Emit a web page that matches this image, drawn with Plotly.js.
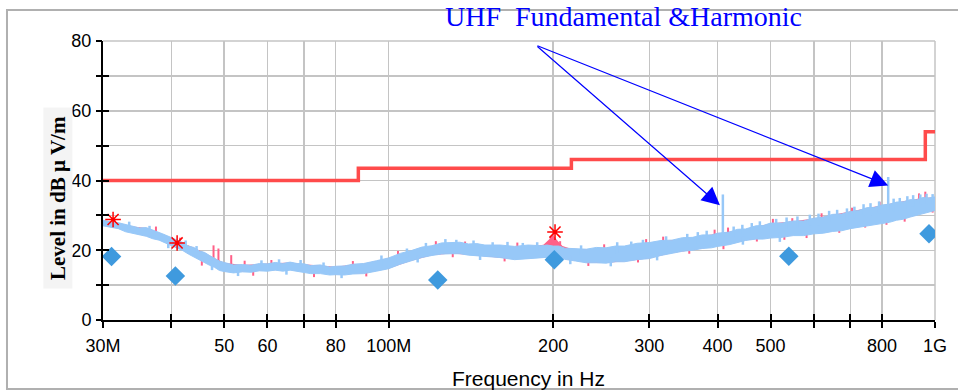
<!DOCTYPE html>
<html>
<head>
<meta charset="utf-8">
<script src="https://cdn.plot.ly/plotly-3.0.1.min.js"></script>
<style>html,body{margin:0;padding:0;background:#fff;}#chart{width:958px;height:392px;}</style>
</head>
<body>
<div id="chart"></div>
<script>
// ---- data (frequency in MHz, level in dBµV/m) ----
// average (blue) trace: band envelope
const freqMHz = [30,31,32,33,34,35,36,37,38,39,40,41,42,43,44,45,46,47,48,49,50,52,54,56,58,60,62,64,66,68,70,72,75,78,80,83,86,90,95,100,105,110,115,120,125,130,135,140,145,150,160,170,180,190,195,200,205,210,220,230,240,250,260,270,285,300,315,330,345,360,375,390,400,420,435,450,470,485,500,525,550,575,600,625,650,675,700,725,750,775,800,825,850,875,900,925,950,975,1000];
const blueUpper = [28.6,28.1,27.9,27.4,26.9,26.4,26.5,25.7,25.1,24.4,23.7,22.8,22.2,21.2,20.8,19.8,19.4,18.5,17.8,16.9,16.5,15.8,15.9,15.7,16.2,16.1,16.5,16.2,16.6,16.2,16.1,15.6,15.8,15.2,15.4,15.5,16.0,16.2,17.0,17.8,19.1,19.9,20.9,21.3,22.1,22.2,22.3,21.8,21.9,21.5,21.5,21.1,21.5,21.3,21.5,21.2,21.2,20.6,20.5,20.3,20.8,20.7,21.2,21.2,22.0,22.2,22.8,22.9,23.6,23.7,24.4,24.4,24.9,25.2,26.0,26.1,27.0,27.1,27.8,27.8,28.4,28.4,29.2,29.5,30.3,30.4,31.1,31.4,32.2,32.3,33.0,33.2,33.8,33.9,34.5,34.5,35.1,35.0,35.3];
const blueLower = [27.0,26.5,26.2,25.3,24.9,24.3,24.0,23.3,22.9,22.1,21.3,20.5,19.9,18.9,18.1,17.1,16.5,15.7,15.1,14.2,13.9,13.5,13.8,13.7,14.1,14.0,14.3,14.0,14.3,13.9,13.7,13.3,13.3,12.9,13.0,12.9,13.2,13.3,14.0,14.7,16.0,16.9,17.9,18.5,18.9,19.0,19.0,18.6,18.4,18.1,17.9,17.3,17.6,17.8,18.1,18.1,18.1,17.4,16.9,16.4,16.4,16.3,16.7,16.7,17.3,17.6,18.5,19.1,19.7,20.0,20.5,20.7,21.1,21.6,22.3,22.8,23.2,23.2,23.5,23.7,24.2,24.2,24.7,24.9,25.4,25.6,26.2,26.6,27.0,27.2,27.7,28.0,28.6,28.9,29.5,30.0,30.6,30.9,31.4];

// individual excursions of the blue trace (freq, low, high)
const blueSpikeFreq = [33.5,36.5,39.5,42.5,44.5,47.5,53,58.5,63,65,69,76,82,97,108,113,117,127,133,143,147,155,165,176,187,215,225,255,262,278,292,310,322,352,368,382,428,444,445,462,478,512,520,535,560,590,612,640,662,690,712,740,762,790,840,862,890,912,940,965,990];
const blueSpikeLow  = [26.0,25.0,20.6,21.0,19.5,14.3,12.6,15.0,15.0,13.0,15.0,14.0,12.0,15.5,18.0,16.5,19.5,20.5,20.5,20.0,17.2,20.0,19.5,19.5,19.5,16.0,18.5,15.4,19.0,19.5,20.0,17.1,21.0,22.0,22.0,22.5,24.0,24.5,21.6,25.0,25.0,26.0,22.4,26.0,26.5,27.0,27.0,28.0,28.0,28.5,29.0,30.0,30.0,30.5,31.0,31.5,32.0,32.5,33.0,33.0,33.5];
const blueSpikeHigh = [28.2,27.0,23.0,22.8,21.2,17.0,15.0,17.1,17.4,15.0,17.2,16.5,14.0,18.5,20.5,18.5,22.1,23.2,23.0,22.8,20.0,22.3,22.4,22.1,22.3,18.5,21.4,18.0,22.3,22.5,23.0,19.5,24.0,24.7,25.2,25.6,26.8,27.3,24.0,27.8,28.3,29.0,25.0,29.4,29.7,30.2,30.5,31.3,31.6,32.0,32.5,33.2,33.5,34.0,34.8,35.0,35.5,35.8,36.0,36.2,36.1];

// peak (red) trace envelope
const redFreq  = [30,32,34,36,38,40,42,44,46,48,50,54,58,62,66,70,75,80,86,90,100,110,120,130,140,150,170,185,192,197,200,203,208,215,230,250,270,300,330,360,400,450,500,550,600,650,700,750,800,850,900,950,1000];
const redUpper = [28.5,27.8,26.8,26.4,25.0,23.6,22.1,20.7,19.3,17.7,16.4,15.8,16.1,16.4,16.5,16.0,15.7,15.3,15.9,16.1,17.7,19.8,21.2,22.1,21.7,21.4,21.0,21.3,21.6,23.2,24.4,23.0,21.2,20.5,20.2,20.6,21.1,22.1,22.8,23.6,24.8,26.0,27.7,28.3,29.1,30.2,31.0,32.1,32.9,33.7,34.4,35.0,35.2];
const redLower = [27.1,26.3,25.0,24.1,23.0,21.4,20.0,18.2,16.6,15.2,14.0,13.9,14.2,14.4,14.4,13.8,13.4,13.1,13.3,13.4,14.8,17.0,18.6,19.1,18.7,18.2,17.4,17.8,18.0,18.2,18.2,18.2,17.6,17.2,16.5,16.4,16.8,17.7,19.2,20.1,21.2,22.9,23.6,24.3,24.8,25.5,26.3,27.1,27.8,28.7,29.6,30.7,31.5];
// red excursions poking out of the blue band (freq, low, high)
const redFleckFreq = [31.5,37.5,41.5,45.5,47.8,48.8,51.5,54.5,56.5,61,73,86,91,104,122,131,138,163,172,198,206,232,248,286,296,318,355,395,410,418,472,505,530,548,582,620,668,705,745,792,815,880,935,960,990];
const redFleckLow  = [27.5,24.5,21.5,15.6,16.5,16.0,15.0,15.0,12.7,15.0,12.3,14.5,12.5,17.0,20.0,18.0,20.0,16.8,19.5,21.0,20.0,15.5,19.0,16.5,20.5,21.0,19.0,23.0,20.3,24.0,22.5,26.0,23.0,26.5,23.5,27.5,25.0,29.0,26.5,30.5,27.3,28.2,33.0,33.5,30.8];
const redFleckHigh = [29.0,26.8,23.6,17.5,21.4,20.5,18.6,17.0,14.5,17.2,14.0,16.9,14.5,19.8,22.6,19.5,22.5,18.5,22.2,24.0,22.6,17.0,21.7,18.0,23.2,23.9,20.5,25.9,22.0,26.5,24.0,29.0,24.5,29.2,25.0,30.6,26.5,32.2,28.0,33.9,29.0,30.0,36.3,36.8,32.5];

// harmonic spikes of the fundamental
const harmonicFreq = [409, 821];
const harmonicBase = [24.0, 31.5];
const harmonicTop  = [36.0, 41.0];

// limit line (FCC class B, 3 m)
const limitFreq  = [30, 88, 216, 960, 1000];
const limitLevel = [40, 43.5, 46, 54, 54];

// final measurement markers
const qpFreq  = [31.1, 40.7, 123, 201, 540, 975];
const qpLevel = [18.2, 12.6, 11.5, 17.3, 18.3, 24.7];
const pkFreq  = [31.3, 41.0, 201.6];
const pkLevel = [28.8, 22.1, 25.2];

// axes ticks
const xTickVals = [30,40,50,60,70,80,100,200,300,400,500,600,700,800,1000];
const xTickText = ['30M','','50','60','','80','100M','200','300','400','500','','','800','1G'];
const yTickVals = [0,10,20,30,40,50,60,70,80];
const yTickText = ['0','','20','','40','','60','','80'];

// annotation arrow geometry (data coordinates)
const arrowTail = {f: 186, lvl: 78.8};
const arrowHeads = [{f: 404, lvl: 32.9}, {f: 821, lvl: 38.6}];

function spikes(fs, lo, hi) {
  const x = [], y = [];
  fs.forEach((f, i) => { x.push(f, f, null); y.push(lo[i], hi[i], null); });
  return {x, y};
}
const bs = spikes(blueSpikeFreq, blueSpikeLow, blueSpikeHigh);
const rf = spikes(redFleckFreq, redFleckLow, redFleckHigh);
const hs = spikes(harmonicFreq, harmonicBase, harmonicTop);

const BLUE = '#97c8f8';
const RED = '#ff6088';

const traces = [
  {x: redFreq, y: redLower, mode: 'lines', line: {color: RED, width: 0}, showlegend: false},
  {x: redFreq, y: redUpper, mode: 'lines', line: {color: RED, width: 0}, fill: 'tonexty', fillcolor: RED, showlegend: false},
  {x: rf.x, y: rf.y, mode: 'lines', line: {color: RED, width: 2}, showlegend: false},
  {x: freqMHz, y: blueLower, mode: 'lines', line: {color: BLUE, width: 1}, showlegend: false},
  {x: freqMHz, y: blueUpper, mode: 'lines', line: {color: BLUE, width: 1}, fill: 'tonexty', fillcolor: BLUE, showlegend: false},
  {x: bs.x, y: bs.y, mode: 'lines', line: {color: BLUE, width: 2.5}, showlegend: false},
  {x: hs.x, y: hs.y, mode: 'lines', line: {color: BLUE, width: 2.5}, showlegend: false},
  {x: limitFreq, y: limitLevel, mode: 'lines', line: {color: '#ff4b4b', width: 3.5, shape: 'hv'}, showlegend: false},
  {x: qpFreq, y: qpLevel, mode: 'markers', marker: {symbol: 'diamond', size: 15, color: '#3f9ade'}, showlegend: false},
  {x: pkFreq, y: pkLevel, mode: 'markers', marker: {symbol: 'asterisk-open', size: 13, color: '#ff0000', line: {color: '#ff0000', width: 1.5}}, showlegend: false},
  {x: [], y: [], xaxis: 'x2', yaxis: 'y2', showlegend: false}
];

const tickFont = {family: 'Liberation Sans, Arial, sans-serif', size: 18, color: '#000'};
const L = Math.log10;

const layout = {
  width: 958, height: 392,
  margin: {l: 103, r: 23, t: 41, b: 72},
  paper_bgcolor: '#fff', plot_bgcolor: '#fff',
  showlegend: false,
  xaxis: {
    type: 'log', range: [L(30), L(1000)], tickmode: 'array', tickvals: xTickVals, ticktext: xTickText,
    showgrid: true, gridcolor: '#c4c4c4', gridwidth: 1.5, zeroline: false,
    showline: true, linecolor: '#000', linewidth: 2,
    ticks: 'outside', ticklen: 6, tickwidth: 2, tickcolor: '#000', tickfont: tickFont, ticklabelstandoff: 2
  },
  yaxis: {
    range: [0, 80], tickmode: 'array', tickvals: yTickVals, ticktext: yTickText,
    showgrid: true, gridcolor: '#c4c4c4', gridwidth: 1.5, zeroline: false,
    showline: true, linecolor: '#000', linewidth: 2,
    ticks: 'inside', ticklen: 6, tickwidth: 2, tickcolor: '#000', tickfont: tickFont, ticklabelstandoff: 6
  },
  xaxis2: {
    type: 'log', range: [L(30), L(1000)], overlaying: 'x', anchor: 'y2', tickmode: 'array', tickvals: xTickVals,
    showticklabels: false, showgrid: false, zeroline: false, showline: false,
    ticks: 'inside', ticklen: 6, tickwidth: 2, tickcolor: '#000'
  },
  yaxis2: {
    range: [0, 80], overlaying: 'y', anchor: 'x2', tickmode: 'array', tickvals: yTickVals,
    showticklabels: false, showgrid: false, zeroline: false, showline: false,
    ticks: 'outside', ticklen: 6, tickwidth: 2, tickcolor: '#000'
  },
  shapes: [
    {type: 'rect', xref: 'paper', yref: 'paper', x0: -0.1154, x1: 1.04, y0: -0.247, y1: 1.111,
     line: {color: '#b0b0b0', width: 2}, layer: 'below'},
    {type: 'line', xref: 'paper', yref: 'paper', x0: 0, x1: 1, y0: 1, y1: 1, line: {color: '#c4c4c4', width: 1.5}, layer: 'below'},
    {type: 'line', xref: 'paper', yref: 'paper', x0: 1, x1: 1, y0: 0, y1: 1, line: {color: '#c4c4c4', width: 1.5}, layer: 'below'}
  ],
  annotations: [
    {text: 'UHF\u00a0 Fundamental &amp;Harmonic', xref: 'paper', yref: 'paper', x: 0.625, y: 1.0896,
     xanchor: 'center', yanchor: 'middle', showarrow: false,
     font: {family: 'Liberation Serif, Times New Roman, serif', size: 28, color: '#0000ff'}},
    {text: 'Level in dB µ V/m', xref: 'paper', yref: 'paper', x: -0.0541, y: 0.437,
     xanchor: 'center', yanchor: 'middle', showarrow: false, textangle: -90,
     bgcolor: '#f4f4f4', width: 178, height: 26, borderpad: 1,
     font: {family: 'Liberation Serif, Times New Roman, serif', size: 21, color: '#000', weight: 'bold'}},
    {text: 'Frequency in Hz', xref: 'paper', yref: 'paper', x: 0.511, y: -0.208,
     xanchor: 'center', yanchor: 'middle', showarrow: false,
     font: {family: 'Liberation Sans, Arial, sans-serif', size: 21, color: '#000'}}
  ].concat(arrowHeads.map(h => ({
    text: '', x: L(h.f), y: h.lvl, xref: 'x', yref: 'y',
    ax: L(arrowTail.f), ay: arrowTail.lvl, axref: 'x', ayref: 'y',
    showarrow: true, arrowhead: 2, arrowsize: 3, arrowwidth: 1.2, arrowcolor: '#0000ff', standoff: 0
  })))
};

Plotly.newPlot('chart', traces, layout, {displayModeBar: false, staticPlot: true});
</script>
</body>
</html>
